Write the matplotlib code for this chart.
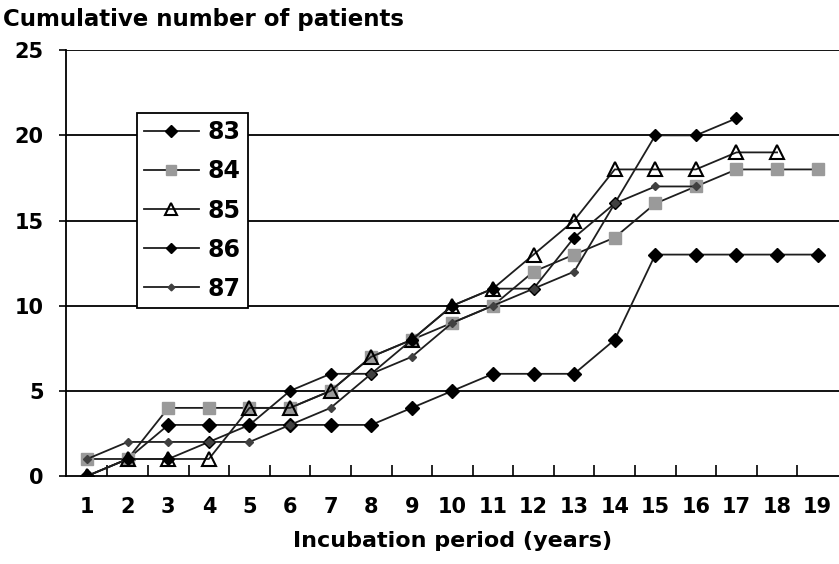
import matplotlib
matplotlib.use("Agg")
import matplotlib.pyplot as plt

plt.rcParams['font.family'] = ['DejaVu Sans']

years = list(range(1, 20))
s83 = [0, 1, 3, 3, 3, 3, 3, 3, 4, 5, 6, 6, 6, 8, 13, 13, 13, 13, 13]
s84 = [1, 1, 4, 4, 4, 4, 5, 7, 8, 9, 10, 12, 13, 14, 16, 17, 18, 18, 18]
s85 = [0, 1, 1, 1, 4, 4, 5, 7, 8, 10, 11, 13, 15, 18, 18, 18, 19, 19]
s86 = [0, 1, 1, 2, 3, 5, 6, 6, 8, 10, 11, 11, 14, 16, 20, 20, 21]
s87 = [1, 2, 2, 2, 2, 3, 4, 6, 7, 9, 10, 11, 12, 16, 17, 17]
labels = ['83', '84', '85', '86', '87']
yticks = [0, 5, 10, 15, 20, 25]

fig = plt.figure(figsize=(8.39, 5.64), dpi=100)
ax = fig.add_axes([0.0787, 0.156, 0.921, 0.755])

lc = '#1e1e1e'
lw = 1.3
ax.plot(years[:len(s83)], s83, color=lc, lw=lw, marker='D', ms=7.6,
        mfc='black', mec='black', label=labels[0], zorder=3)
ax.plot(years[:len(s84)], s84, color=lc, lw=lw, marker='s', ms=9,
        mfc='#9a9a9a', mec='#9a9a9a', label=labels[1], zorder=4)
ax.plot(years[:len(s85)], s85, color=lc, lw=lw, marker='^', ms=10,
        mfc='none', mec='black', mew=1.5, label=labels[2], zorder=5)
ax.plot(years[:len(s86)], s86, color=lc, lw=lw, marker='D', ms=6,
        mfc='black', mec='black', label=labels[3], zorder=6)
ax.plot(years[:len(s87)], s87, color=lc, lw=lw, marker='D', ms=4.3,
        mfc='#404040', mec='#404040', label=labels[4], zorder=7)

ax.set_xlim(0.48, 19.52)
ax.set_ylim(0, 25)
ax.set_yticks(yticks)
ax.set_yticklabels([str(v) for v in yticks], fontsize=15, fontweight='bold')
ax.set_xticks(years)
ax.set_xticklabels([str(v) for v in years], fontsize=15, fontweight='bold')
ax.set_xticks([y + 0.5 for y in years[:-1]], minor=True)
ax.tick_params(axis='x', which='major', length=0, pad=15)
ax.tick_params(axis='x', which='minor', direction='in', length=8, width=1.2)
ax.tick_params(axis='y', which='major', direction='out', length=5, width=1.2, pad=11)

for v in yticks[1:]:
    ax.axhline(v, color='black', lw=1.3, zorder=1)

ax.spines['right'].set_visible(False)
ax.spines['top'].set_visible(False)
ax.spines['left'].set_linewidth(1.3)
ax.spines['bottom'].set_linewidth(1.3)

ax.set_xlabel('Incubation period (years)', fontsize=16, fontweight='bold', labelpad=10)
fig.text(0.004, 0.966, 'Cumulative number of patients', fontsize=16.5,
         fontweight='bold', ha='left', va='center')

leg = ax.legend(loc='upper left', bbox_to_anchor=(0.092, 0.852), frameon=True,
                fancybox=False, edgecolor='black', framealpha=1,
                prop={'size': 17, 'weight': 'bold'}, handlelength=2.3,
                handletextpad=0.4, labelspacing=0.64, borderpad=0.3,
                borderaxespad=0, markerscale=0.8)
leg.get_frame().set_linewidth(1.3)
leg.set_zorder(10)

fig.savefig('out.png', dpi=100)
